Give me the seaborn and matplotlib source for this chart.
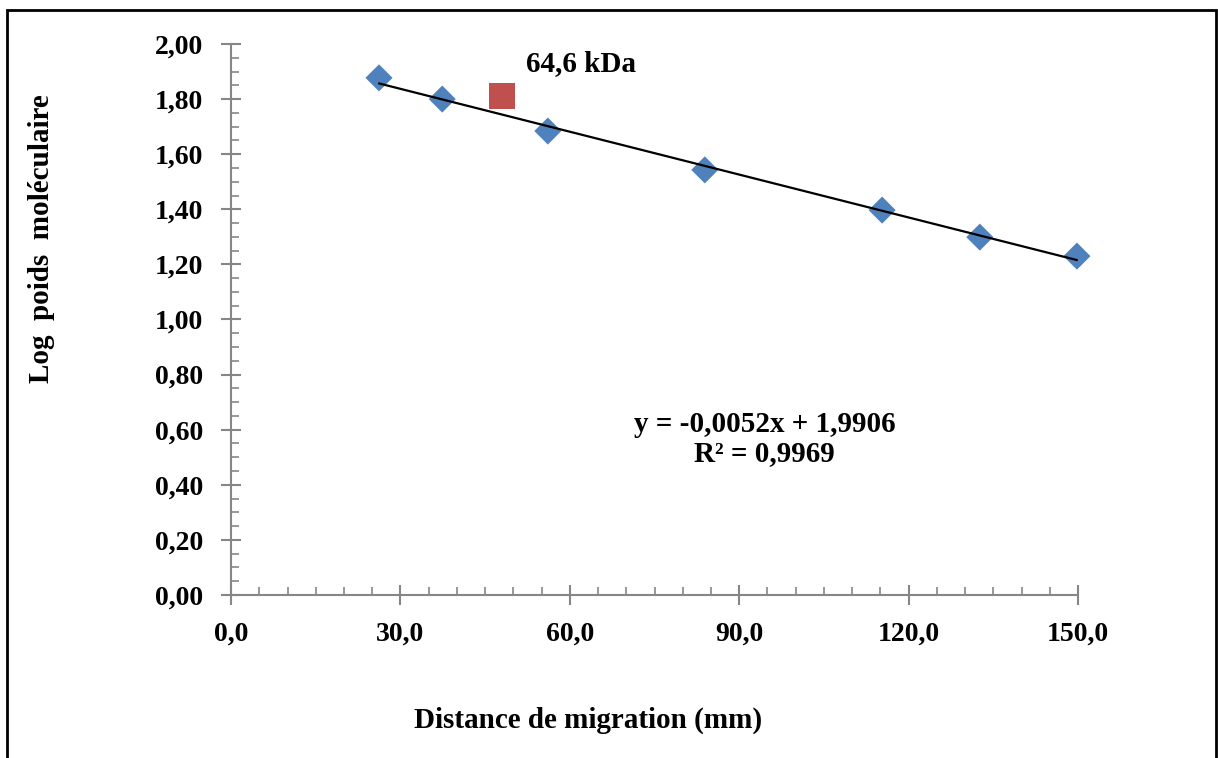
import numpy as np
import pandas as pd
import matplotlib.pyplot as plt
import seaborn as sns
from matplotlib.patches import Rectangle
from matplotlib.ticker import MultipleLocator, FuncFormatter

# standards (distance in mm, log of molecular weight)
distances = [26.2, 37.4, 56.1, 83.9, 115.3, 132.6, 149.8]
log_weights = [1.877, 1.800, 1.684, 1.543, 1.397, 1.299, 1.230]
# unknown protein
unknown_distance = [48.0]
unknown_log = [1.810]
unknown_label = "64,6 kDa"
equation = "y = -0,0052x + 1,9906\nR² = 0,9969"

sns.set_style('white')
plt.rcParams['font.family'] = ['Liberation Serif', 'DejaVu Serif']
plt.rcParams['font.weight'] = 'bold'
plt.rcParams['text.color'] = 'black'
plt.rcParams['xtick.color'] = 'black'
plt.rcParams['ytick.color'] = 'black'

df = pd.DataFrame({'dist': distances, 'logpm': log_weights})
grey = '#868686'

fig = plt.figure(figsize=(12.18, 7.58), dpi=100)
ax = fig.add_axes([0.1897, 0.215, 0.6954, 0.727])

sns.scatterplot(data=df, x='dist', y='logpm', ax=ax, marker='D', s=190,
                color='#4F81BD', edgecolor='none', zorder=2, clip_on=False)
sns.regplot(data=df, x='dist', y='logpm', ax=ax, ci=None, scatter=False,
            truncate=True, line_kws={'color': 'black', 'lw': 1.6, 'zorder': 3})
ax.scatter(unknown_distance, unknown_log, marker='s', s=360, color='#C0504D',
           edgecolor='none', zorder=2)
ax.text(52.2, 1.93, unknown_label, fontsize=21, fontweight='bold', ha='left', va='center')
ax.text(94.5, 0.565, equation, fontsize=21, fontweight='bold', ha='center', va='center',
        linespacing=1.1)

ax.set_xlim(0, 150)
ax.set_ylim(0, 2.0)
ax.xaxis.set_major_locator(MultipleLocator(30))
ax.xaxis.set_minor_locator(MultipleLocator(5))
ax.yaxis.set_major_locator(MultipleLocator(0.2))
ax.yaxis.set_minor_locator(MultipleLocator(0.05))
ax.xaxis.set_major_formatter(FuncFormatter(lambda v, p: f"{v:.1f}".replace('.', ',')))
ax.yaxis.set_major_formatter(FuncFormatter(lambda v, p: f"{v:.2f}".replace('.', ',')))

for s in ['top', 'right']:
    ax.spines[s].set_visible(False)
for s in ['left', 'bottom']:
    ax.spines[s].set_color(grey)
    ax.spines[s].set_linewidth(1.5)
ax.tick_params(which='both', bottom=True, left=True)
ax.tick_params(which='major', direction='inout', length=14, width=1.5, color=grey,
               labelsize=20, labelcolor='black')
ax.tick_params(which='minor', direction='in', length=6, width=1.2, color=grey)
ax.tick_params(axis='x', which='major', pad=12)
ax.tick_params(axis='y', which='major', pad=13)
for lab in ax.get_xticklabels() + ax.get_yticklabels():
    lab.set_fontweight('bold')

ax.set_xlabel('')
ax.set_ylabel('')
fig.text(0.483, 0.05, 'Distance de migration (mm)', fontsize=21, fontweight='bold',
         ha='center', va='center')
fig.text(0.034, 0.685, 'Log  poids  moléculaire', fontsize=21, fontweight='bold',
         rotation=90, ha='center', va='center')

fig.patches.append(Rectangle((7 / 1218, -0.01), 1209 / 1218, 1 - 10 / 758 + 0.01,
                             transform=fig.transFigure, fill=False, edgecolor='black',
                             lw=2, figure=fig))

fig.savefig('out.png', dpi=100)
